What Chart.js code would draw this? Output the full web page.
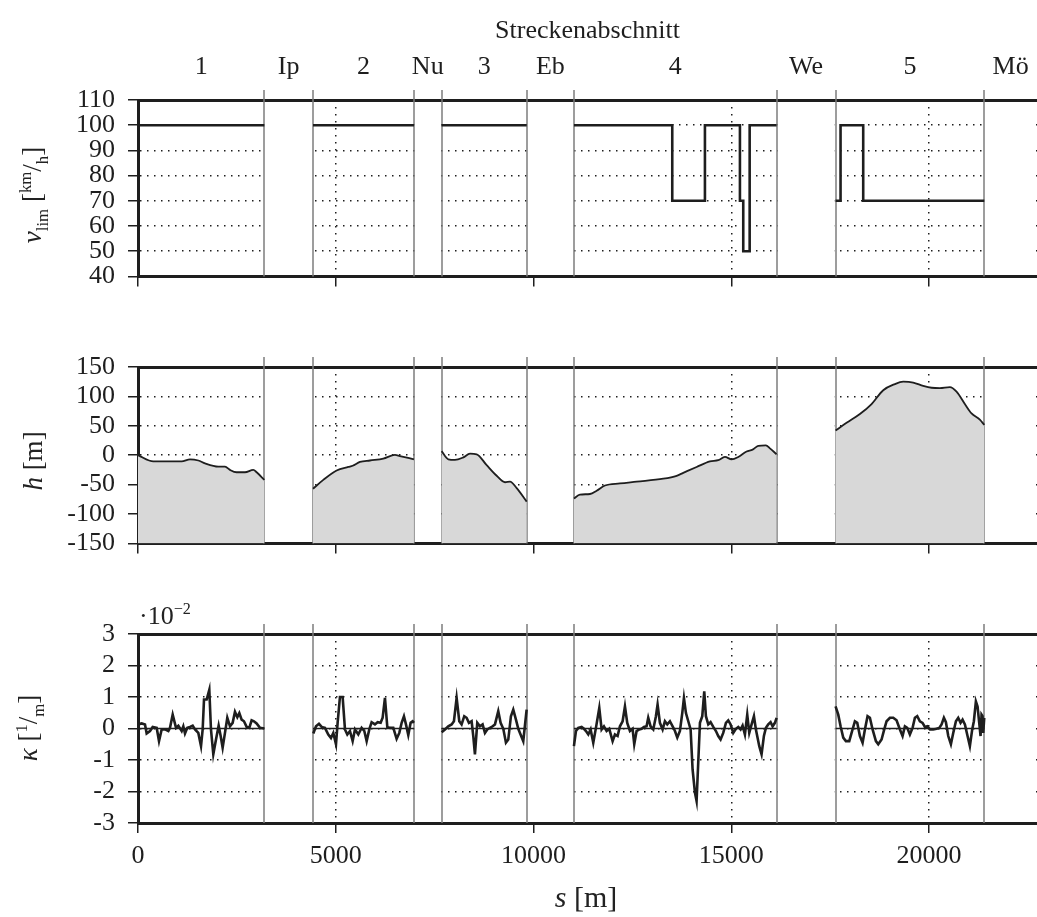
<!DOCTYPE html>
<html>
<head>
<meta charset="utf-8">
<script src="https://cdn.jsdelivr.net/npm/chart.js@4.4.1/dist/chart.umd.min.js"></script>
<style>
  body { margin: 0; background: #fff; }
  #wrap { position: relative; width: 1037px; height: 917px; font-family: 'Liberation Serif', serif; color: #222; }
  canvas { position: absolute; left: 0; }
  .lbl { position: absolute; white-space: nowrap; font-size: 27px; line-height: 1; }
  .rot { transform: translate(-50%, -50%) rotate(-90deg); }
  .ctr { transform: translate(-50%, -50%); }
  .sm { font-size: 0.62em; }
</style>
</head>
<body>
<div id="wrap">
  <canvas id="cV" width="1037" height="305" style="top:0px"></canvas>
  <canvas id="cH" width="1037" height="242" style="top:330px"></canvas>
  <canvas id="cK" width="1037" height="300" style="top:600px"></canvas>
  <div class="lbl rot" style="left:35px;top:195px"><i>v</i><sub class="sm">lim</sub> [<sup class="sm">km</sup>/<sub class="sm">h</sub>]</div>
  <div class="lbl rot" style="left:33px;top:461px"><i>h</i> [m]</div>
  <div class="lbl rot" style="left:31px;top:728px"><i>κ</i> [<sup class="sm">1</sup>/<sub class="sm">m</sub>]</div>
  <div class="lbl" style="left:139px;top:601px;font-size:26px">·10<sup class="sm">−2</sup></div>
  <div class="lbl ctr" style="left:586px;top:897px;font-size:30px"><i>s</i> [m]</div>
</div>
<script>
// Strecke (x-Achse) und Abschnitte
const sMin = 0;
const sMax = 22730;
const sTicks = [0, 5000, 10000, 15000, 20000];
const secStart = [0, 4425, 7675, 11022, 17637];
const secEnd = [3195, 6977, 9828, 16146, 21398];
const secNames = ['1', 'Ip', '2', 'Nu', '3', 'Eb', '4', 'We', '5', 'Mö'];

// Geschwindigkeitsgrenze v_lim [km/h], je Abschnitt
const vS = [
  [0, 3195],
  [4425, 6977],
  [7675, 9828],
  [11022, 13508, 14334, 15219, 15303, 15465, 16146],
  [17637, 17763, 18336, 21398]
];
const vV = [
  [100, 100],
  [100, 100],
  [100, 100],
  [100, 70, 100, 70, 50, 100, 100],
  [70, 100, 70, 70]
];

// Hoehe h [m]
const hS = [
  [0, 387, 1104, 1314, 1525, 1694, 2031, 2200, 2325, 2494, 2705, 2915, 3000, 3195],
  [4425, 4685, 5022, 5317, 5427, 5612, 5865, 6202, 6497, 6623, 6977],
  [7675, 7846, 8014, 8225, 8394, 8563, 8816, 9069, 9280, 9406, 9575, 9828],
  [11022, 11174, 11427, 11596, 11806, 12185, 12606, 13281, 13618, 13786, 14124, 14460, 14671, 14840, 15008, 15177, 15387, 15539, 15682, 15876, 15977, 16146],
  [17637, 17915, 18252, 18547, 18842, 19137, 19348, 19600, 19853, 20064, 20274, 20527, 20696, 20906, 21075, 21285, 21398]
];
const hV = [
  [0, -10.5, -10.5, -7, -9, -14, -19.5, -19.5, -25, -29, -29, -25, -29, -42],
  [-57, -42, -26, -20, -18, -11.5, -9, -6, 0.5, -1.5, -7],
  [7, -7, -8, -3.7, 2.6, 1.6, -17, -35, -46, -45, -56, -79],
  [-73.6, -67, -66, -60.5, -51.5, -48, -45, -40, -35, -30, -20, -10.5, -8.4, -3, -7, -3, 6.3, 9.5, 15.8, 16.8, 11.6, 1.6],
  [42, 55, 70, 87, 110.5, 121, 125, 123.6, 118, 114.7, 114, 115.7, 108, 87, 71, 60.5, 51.5]
];

// Kruemmung kappa [1e-2 1/m]
const kS = [
  [0, 93, 177, 219, 303, 371, 472, 531, 598, 683, 767, 809, 877, 961, 1020, 1104, 1146, 1188, 1247, 1315, 1382, 1441, 1525, 1593, 1635, 1669, 1736, 1803, 1845, 1904, 1972, 2039, 2090, 2140, 2199, 2258, 2326, 2393, 2452, 2511, 2562, 2620, 2679, 2747, 2814, 2873, 2932, 2999, 3084, 3195],
  [4432, 4500, 4575, 4643, 4727, 4811, 4879, 4938, 5006, 5047, 5106, 5174, 5233, 5292, 5359, 5427, 5486, 5570, 5654, 5722, 5781, 5848, 5907, 5991, 6059, 6135, 6185, 6244, 6303, 6370, 6455, 6539, 6607, 6666, 6724, 6775, 6834, 6893, 6944, 6977],
  [7677, 7761, 7845, 7929, 7988, 8056, 8123, 8182, 8249, 8308, 8367, 8435, 8477, 8519, 8578, 8646, 8713, 8772, 8831, 8899, 8966, 9025, 9109, 9168, 9236, 9303, 9362, 9429, 9488, 9556, 9615, 9657, 9741, 9826],
  [11022, 11073, 11132, 11216, 11275, 11326, 11385, 11444, 11511, 11578, 11663, 11722, 11781, 11848, 11915, 12000, 12059, 12126, 12185, 12253, 12312, 12370, 12438, 12505, 12547, 12606, 12674, 12733, 12792, 12859, 12901, 12960, 13028, 13095, 13137, 13196, 13264, 13323, 13382, 13449, 13517, 13576, 13635, 13702, 13761, 13803, 13854, 13913, 13972, 14022, 14081, 14123, 14165, 14208, 14267, 14317, 14359, 14418, 14477, 14545, 14612, 14671, 14730, 14797, 14865, 14924, 14983, 15050, 15118, 15177, 15236, 15286, 15345, 15404, 15455, 15514, 15573, 15623, 15665, 15708, 15766, 15825, 15876, 15935, 15994, 16045, 16104, 16146],
  [17637, 17705, 17764, 17831, 17898, 17983, 18042, 18126, 18185, 18253, 18320, 18379, 18446, 18505, 18573, 18657, 18716, 18800, 18868, 18927, 19011, 19095, 19179, 19264, 19331, 19390, 19449, 19516, 19584, 19643, 19702, 19769, 19836, 19896, 19955, 20022, 20106, 20191, 20258, 20317, 20376, 20427, 20486, 20553, 20612, 20680, 20738, 20797, 20848, 20907, 20974, 21033, 21092, 21134, 21185, 21227, 21269, 21303, 21328, 21353, 21370, 21396]
];
const kV = [
  [0.13, 0.16, 0.13, -0.16, -0.08, 0.05, 0.02, -0.4, -0.03, -0.03, -0.08, 0.02, 0.44, 0.02, 0.09, -0.08, 0.07, -0.16, 0.02, 0.05, 0.09, -0.03, -0.14, -0.56, -0.03, 0.92, 0.92, 1.23, -0.03, -0.82, -0.35, 0.09, -0.24, -0.61, -0.14, 0.34, 0.07, 0.18, 0.53, 0.36, 0.49, 0.28, 0.23, 0.05, 0.02, 0.26, 0.23, 0.16, 0.02, 0],
  [-0.16, 0.07, 0.15, 0.05, 0.02, -0.19, -0.3, -0.14, -0.5, 0.18, 1.0, 1.0, -0.03, -0.19, -0.08, -0.4, -0.03, -0.19, 0.02, -0.08, -0.4, -0.03, 0.2, 0.13, 0.2, 0.18, 0.34, 0.97, 0.05, 0.02, 0.02, -0.33, -0.14, 0.18, 0.39, 0.13, -0.21, 0.18, 0.23, 0.18],
  [-0.12, -0.03, 0.07, 0.13, 0.23, 0.97, 0.23, 0.13, 0.39, 0.34, 0.18, 0.23, -0.24, -0.82, 0.18, 0.07, 0.13, -0.14, -0.03, 0.02, 0.07, 0.13, 0.55, 0.18, -0.01, -0.45, -0.35, 0.39, 0.6, 0.28, -0.01, -0.14, -0.4, 0.6],
  [-0.56, -0.08, 0.02, 0.05, -0.01, -0.08, -0.19, -0.03, -0.45, 0.02, 0.65, -0.03, 0.07, -0.08, -0.01, -0.4, -0.19, -0.24, 0.07, 0.23, 0.7, 0.18, -0.08, -0.01, -0.5, -0.08, -0.03, -0.01, 0.05, 0.07, 0.34, 0.07, -0.03, 0.39, 0.76, 0.18, -0.03, 0.23, 0.13, 0.23, 0.07, -0.08, -0.29, -0.08, 0.49, 0.97, 0.49, 0.23, -0.03, -1.3, -2.03, -2.3, -1.08, 0.18, 0.39, 1.18, 0.39, 0.13, 0.2, 0.05, -0.08, -0.24, -0.35, -0.14, 0.18, 0.26, 0.13, -0.14, -0.01, 0.05, -0.03, 0.09, -0.19, 0.44, -0.14, 0.13, 0.39, -0.03, -0.29, -0.56, -0.82, -0.24, 0.02, 0.13, 0.2, 0.07, 0.18, 0.34],
  [0.7, 0.44, 0.07, -0.29, -0.4, -0.4, -0.14, 0.23, 0.18, -0.24, -0.45, -0.03, 0.39, 0.34, -0.03, -0.4, -0.5, -0.35, -0.03, 0.23, 0.34, 0.34, 0.26, -0.03, -0.24, 0.07, 0.02, -0.19, 0.02, 0.34, 0.39, 0.23, 0.18, 0.05, 0.07, -0.03, -0.03, -0.01, 0.02, 0.13, 0.34, 0.2, -0.24, -0.5, -0.14, 0.23, 0.34, 0.18, 0.28, 0.13, -0.24, -0.56, -0.03, 0.23, 0.86, 0.7, 0.18, -0.24, 0.44, 0.39, -0.14, 0.34]
];

const FONT = "'Liberation Serif', serif";
const INK = '#1e1e1e';

function pairs(xs, ys) {
  return xs.map((x, j) => ({ x: x, y: ys[j] }));
}

function sectionSets(sArr, yArr, style) {
  return sArr.map((xs, i) => Object.assign({
    data: pairs(xs, yArr[i]),
    xAxisID: 'x', yAxisID: 'y',
    pointRadius: 0, borderColor: INK, fill: false
  }, style));
}

// weisse Luecken zwischen den Abschnitten und graue Trennlinien
const sectionPlugin = {
  id: 'sections',
  beforeDatasetsDraw(chart) {
    const ctx = chart.ctx;
    const a = chart.chartArea;
    const x = chart.scales.x;
    ctx.save();
    ctx.fillStyle = '#fff';
    for (let i = 0; i < secEnd.length; i++) {
      const x1 = x.getPixelForValue(secEnd[i]);
      const x2 = i + 1 < secStart.length ? x.getPixelForValue(secStart[i + 1]) : a.right;
      ctx.fillRect(x1 + 1, a.top + 2, x2 - x1 - 2, a.bottom - a.top - 4);
    }
    ctx.strokeStyle = '#7d7d7d';
    ctx.lineWidth = 1.5;
    secStart.concat(secEnd).forEach(s => {
      if (s <= sMin) return;
      const px = Math.round(x.getPixelForValue(s));
      ctx.beginPath();
      ctx.moveTo(px, a.top - 10);
      ctx.lineTo(px, a.bottom);
      ctx.stroke();
    });
    ctx.restore();
  }
};

function makeChart(id, o) {
  const tickFont = { family: FONT, size: 26 };
  return new Chart(document.getElementById(id), {
    type: 'line',
    data: { datasets: o.datasets },
    options: {
      responsive: false,
      animation: false,
      devicePixelRatio: 1,
      layout: { padding: 0 },
      plugins: { legend: { display: false }, tooltip: { enabled: false } },
      scales: {
        x: {
          type: 'linear', position: 'bottom', min: sMin, max: sMax,
          afterBuildTicks: s => { s.ticks = sTicks.map(v => ({ value: v })); },
          ticks: {
            display: o.xLabels, autoSkip: false, maxRotation: 0,
            padding: 8, color: INK, font: tickFont, callback: v => String(v)
          },
          grid: { color: INK, lineWidth: 1.5, tickLength: 10, tickWidth: 1.5, tickColor: INK, tickBorderDash: [] },
          border: { display: true, color: INK, width: 3, dash: [1.5, 5.5] },
          afterFit: s => { s.height = o.bottomH; }
        },
        xt: {
          type: 'linear', position: 'top', min: sMin, max: sMax,
          afterBuildTicks: s => {
            if (!o.sections) { s.ticks = []; return; }
            const mids = [];
            for (let i = 0; i < secStart.length; i++) {
              mids.push((secStart[i] + secEnd[i]) / 2);
              const next = i + 1 < secStart.length ? secStart[i + 1] : sMax;
              mids.push((secEnd[i] + next) / 2);
            }
            s.ticks = mids.map(v => ({ value: v }));
          },
          ticks: {
            display: !!o.sections, autoSkip: false, maxRotation: 0, padding: 0,
            color: INK, font: tickFont, callback: (v, i) => secNames[i]
          },
          title: {
            display: !!o.sections, text: 'Streckenabschnitt', color: INK,
            font: { family: FONT, size: 26 }, padding: { top: 16, bottom: 0 }
          },
          grid: { display: true, drawOnChartArea: false, drawTicks: true, tickLength: 17, tickColor: 'rgba(0,0,0,0)' },
          border: { display: true, color: INK, width: 3 },
          afterFit: s => { s.height = o.topH; }
        },
        y: {
          min: o.yMin, max: o.yMax,
          ticks: {
            stepSize: o.yStep, autoSkip: false, padding: 13, color: INK, font: tickFont,
            callback: v => String(v)
          },
          grid: { color: INK, lineWidth: 1.5, tickLength: 10, tickWidth: 1.5, tickColor: INK, tickBorderDash: [] },
          border: { display: true, color: INK, width: 3, dash: [1.5, 5.5] },
          afterFit: s => { s.width = 138; }
        }
      }
    },
    plugins: [sectionPlugin]
  });
}

makeChart('cV', {
  datasets: sectionSets(vS, vV, { borderWidth: 2.6, stepped: true }),
  yMin: 40, yMax: 110, yStep: 10, topH: 100, bottomH: 16, sections: true, xLabels: false
});

makeChart('cH', {
  datasets: sectionSets(hS, hV, {
    borderWidth: 1.8, fill: 'start', backgroundColor: '#d8d8d8', cubicInterpolationMode: 'monotone'
  }),
  yMin: -150, yMax: 150, yStep: 50, topH: 37, bottomH: 16, sections: false, xLabels: false
});

const zeroS = secStart.map((s, i) => [s, secEnd[i]]);
const zeroV = secStart.map(() => [0, 0]);
makeChart('cK', {
  datasets: sectionSets(zeroS, zeroV, { borderWidth: 1.6 })
    .concat(sectionSets(kS, kV, { borderWidth: 2.6 })),
  yMin: -3, yMax: 3, yStep: 1, topH: 34, bottomH: 77, sections: false, xLabels: true
});
</script>
</body>
</html>
